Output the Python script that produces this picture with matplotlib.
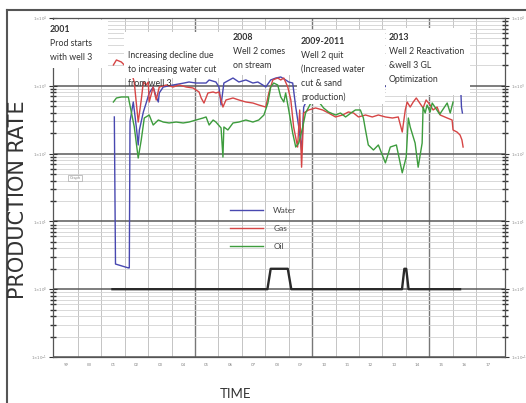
import numpy as np
import matplotlib
matplotlib.use('Agg')
import matplotlib.pyplot as plt
import matplotlib.ticker as ticker
from matplotlib.patches import Rectangle
from matplotlib.lines import Line2D

plt.rcParams['font.family'] = ['Lato', 'DejaVu Sans']

# ---- data (rates on log scale, time in years) ----
water_year = [2001.55, 2001.60, 2002.15, 2002.19, 2002.22, 2002.36, 2002.49, 2002.57, 2002.62,
              2002.79, 2002.91, 2003.04, 2003.21, 2003.34, 2003.43, 2003.47, 2003.64, 2004.06,
              2004.53, 2004.74, 2005.04, 2005.47, 2005.60, 2005.89, 2006.02, 2006.11, 2006.23,
              2006.62, 2006.87, 2007.17, 2007.47, 2007.68, 2007.89, 2008.02, 2008.23, 2008.45,
              2008.66, 2008.87, 2009.00, 2009.17, 2009.30, 2009.43, 2009.55, 2009.64, 2010.00,
              2011.00, 2012.00, 2013.04, 2013.50, 2014.50, 2015.50, 2016.35, 2016.38, 2016.42]
water_rate = [347, 2.35, 2.06, 2.06, 300, 577, 247, 134, 223,
              411, 557, 784, 960, 684, 577, 784, 960, 1028,
              1099, 1138, 1099, 1099, 1219, 1138, 960, 521, 1099,
              1303, 1138, 1219, 1099, 1138, 1028, 960, 1219, 1303,
              1349, 1219, 1138, 1099, 486, 247, 113, 486, 900,
              950, 900, 1000, 900, 950, 900, 900, 486, 397]

gas_year = [2001.51, 2001.64, 2001.85, 2002.06, 2002.30, 2002.40, 2002.57, 2002.70, 2002.79,
            2002.91, 2003.00, 2003.04, 2003.21, 2003.34, 2003.47, 2003.77, 2004.06, 2004.32,
            2004.62, 2004.91, 2005.17, 2005.26, 2005.38, 2005.55, 2005.77, 2005.89, 2006.02,
            2006.19, 2006.32, 2006.62, 2006.87, 2007.17, 2007.47, 2007.72, 2008.02, 2008.15,
            2008.32, 2008.53, 2008.66, 2008.79, 2008.96, 2009.09, 2009.21, 2009.38, 2009.47,
            2009.55, 2009.64, 2009.85, 2010.15, 2010.45, 2010.70, 2011.00, 2011.30, 2011.55,
            2011.77, 2011.98, 2012.28, 2012.57, 2012.83, 2013.13, 2013.43, 2013.68, 2013.85,
            2013.98, 2014.06, 2014.19, 2014.32, 2014.45, 2014.74, 2014.87, 2015.04, 2015.17,
            2015.34, 2015.47, 2015.77, 2015.98, 2016.02, 2016.19, 2016.32, 2016.40, 2016.45]
gas_rate = [2028, 2404, 2244, 1893, 1500, 1138, 292, 618, 1138,
            1028, 1138, 577, 960, 618, 960, 1028, 960, 1028,
            960, 929, 811, 661, 557, 784, 811, 784, 811,
            486, 618, 661, 618, 577, 557, 521, 486, 784,
            1219, 1303, 1219, 1303, 960, 618, 247, 125, 440,
            63, 397, 440, 471, 440, 397, 347, 371, 411,
            397, 347, 371, 347, 371, 347, 335, 347, 208,
            440, 577, 486, 577, 661, 471, 618, 521, 440,
            486, 371, 335, 313, 223, 208, 188, 159, 125]

oil_year = [2001.51, 2001.64, 2001.85, 2002.15, 2002.19, 2002.40, 2002.57, 2002.70, 2002.83,
            2003.04, 2003.21, 2003.43, 2003.64, 2003.89, 2004.19, 2004.49, 2004.74, 2005.04,
            2005.34, 2005.47, 2005.60, 2005.77, 2005.89, 2006.11, 2006.19, 2006.23, 2006.40,
            2006.62, 2006.87, 2007.17, 2007.47, 2007.72, 2007.94, 2008.11, 2008.23, 2008.36,
            2008.53, 2008.66, 2008.79, 2008.87, 2009.00, 2009.17, 2009.30, 2009.43, 2009.60,
            2009.72, 2010.10, 2010.49, 2010.70, 2011.00, 2011.21, 2011.43, 2011.72, 2011.85,
            2012.06, 2012.19, 2012.28, 2012.40, 2012.62, 2012.83, 2013.13, 2013.34, 2013.60,
            2013.85, 2014.02, 2014.11, 2014.19, 2014.40, 2014.53, 2014.70, 2014.74, 2014.83,
            2014.91, 2015.04, 2015.13, 2015.45, 2015.77, 2015.90, 2016.02]
oil_rate = [577, 661, 684, 684, 577, 250, 86, 159, 335,
            371, 264, 313, 292, 283, 292, 283, 292, 313,
            335, 347, 264, 313, 292, 239, 89, 247, 223,
            283, 292, 313, 292, 313, 371, 557, 960, 1099,
            1028, 684, 577, 784, 440, 201, 125, 143, 247,
            397, 700, 471, 411, 371, 397, 347, 411, 440,
            440, 335, 223, 134, 113, 134, 73, 125, 134,
            52, 89, 335, 247, 143, 63, 143, 486, 397,
            521, 411, 557, 380, 557, 397, 577]

well_year = [2001.47, 2008.09, 2008.23, 2008.96, 2009.11, 2013.84, 2013.94, 2014.02, 2014.12, 2016.32]
well_count = [1, 1, 2, 2, 1, 1, 2, 2, 1, 1]

year_labels = ['99', '00', '01', '02', '03', '04', '05', '06', '07', '08',
               '09', '10', '11', '12', '13', '14', '15', '16', '17']

notes = [
    (50, 30, ['2001', 'Prod starts', 'with well 3']),
    (128, 42, [None, 'Increasing decline due', 'to increasing water cut', 'from well 3']),
    (233, 38, ['2008', 'Well 2 comes', 'on stream']),
    (301, 41, ['2009-2011', 'Well 2 quit', '(Increased water', 'cut & sand', 'production)']),
    (389, 38, ['2013', 'Well 2 Reactivation', '&well 3 GL', 'Optimization']),
]

W, H = 526, 403
fig = plt.figure(figsize=(W / 100, H / 100), dpi=100)
fig.patch.set_facecolor('white')

def fx(x):
    return x / W

def fy(y):
    return 1 - y / H

ax = fig.add_axes([fx(53), fy(357), (505 - 53) / W, (357 - 18) / H])
ax.set_yscale('log')
ax.set_ylim(0.1, 1e4)
ax.set_xlim(1998.93, 2018.24)

# grid
for yr in range(2000, 2018):
    dark = yr % 5 == 0 and yr != 2000
    ax.axvline(yr, color='#777777' if dark else '#c4c4c4', lw=1.0 if dark else 0.7, zorder=0.5)
ax.yaxis.set_major_locator(ticker.LogLocator(base=10, numticks=10))
ax.yaxis.set_minor_locator(ticker.LogLocator(base=10, subs=np.arange(2, 10), numticks=10))
ax.yaxis.set_minor_formatter(ticker.NullFormatter())
ax.yaxis.set_major_formatter(ticker.FuncFormatter(lambda v, p: r'$1{\times}10^{%d}$' % round(np.log10(v))))
ax.yaxis.grid(True, which='major', color='#5a5a5a', lw=1.1, zorder=0.6)
ax.yaxis.grid(True, which='minor', color='#d2d2d2', lw=0.6, zorder=0.4)
ax.set_axisbelow(True)

ax.tick_params(axis='y', which='both', direction='inout', color='#333333',
               left=True, right=True, labelleft=True, labelright=True,
               labelsize=2.8, labelcolor='#888888', pad=1)
ax.tick_params(axis='y', which='major', length=6, width=0.8)
ax.tick_params(axis='y', which='minor', length=4, width=1.0)

ax.set_xticks([1999.5 + i for i in range(len(year_labels))])
ax.set_xticklabels(year_labels)
ax.tick_params(axis='x', length=0, labelsize=3.2, labelcolor='#888888', pad=4)

for s in ax.spines.values():
    s.set_color('#555555')
    s.set_linewidth(0.9)

# series
lw, = ax.plot(water_year, water_rate, color='#4848b0', lw=1.0, label='Water', zorder=3)
lg, = ax.plot(gas_year, gas_rate, color='#d64545', lw=1.0, label='Gas', zorder=3)
lo, = ax.plot(oil_year, oil_rate, color='#3d9c3d', lw=1.0, label='Oil', zorder=3)
ax.plot(well_year, well_count, color='#2a2a2a', lw=1.7, zorder=3)

leg = ax.legend(handles=[lw, lg, lo], loc='upper left', frameon=False,
                bbox_to_anchor=(fx(230), fy(207)), bbox_transform=fig.transFigure,
                borderpad=0, borderaxespad=0, fontsize=6, handlelength=4.0,
                handletextpad=1.2, labelspacing=1.3)
for t in leg.get_texts():
    t.set_color('#444444')

# white boxes behind the annotations (they hide the grid and the lines)
boxes = [(47, 20, 108, 68), (124, 32, 228, 78), (228, 30, 297, 75),
         (297, 30, 385, 104), (386, 28, 470, 95)]
for x0, y0, x1, y1 in boxes:
    fig.add_artist(Rectangle((fx(x0), fy(y1)), (x1 - x0) / W, (y1 - y0) / H,
                             transform=fig.transFigure, facecolor='white',
                             edgecolor='none', zorder=2))

for x, y0, lines in notes:
    for i, s in enumerate(lines):
        if s is None:
            continue
        bold = i == 0 and s[:2] == '20'
        fig.text(fx(x), fy(y0 + 14 * i), s, fontsize=6.3, color='#333333',
                 fontweight='bold' if bold else 'normal', va='center', ha='left', zorder=4)

fig.text(fx(75), fy(178), 'Graph', fontsize=3, color='#888888', ha='center', va='center',
         bbox=dict(boxstyle='square,pad=0.3', facecolor='white', edgecolor='#aaaaaa', lw=0.5))

fig.text(fx(18), fy(200), 'PRODUCTION RATE', rotation=90, fontsize=15, color='#333333',
         family='DejaVu Sans', ha='center', va='center')
fig.text(fx(236), fy(394), 'TIME', fontsize=9.5, color='#333333', ha='center', va='center')

# outer frame of the scanned figure
fig.add_artist(Line2D([fx(7), fx(526)], [fy(10), fy(10)], transform=fig.transFigure,
                      color='#555555', lw=1.5))
fig.add_artist(Line2D([fx(7), fx(7)], [fy(10), fy(403)], transform=fig.transFigure,
                      color='#555555', lw=1.5))

fig.savefig('out.png', dpi=100)
